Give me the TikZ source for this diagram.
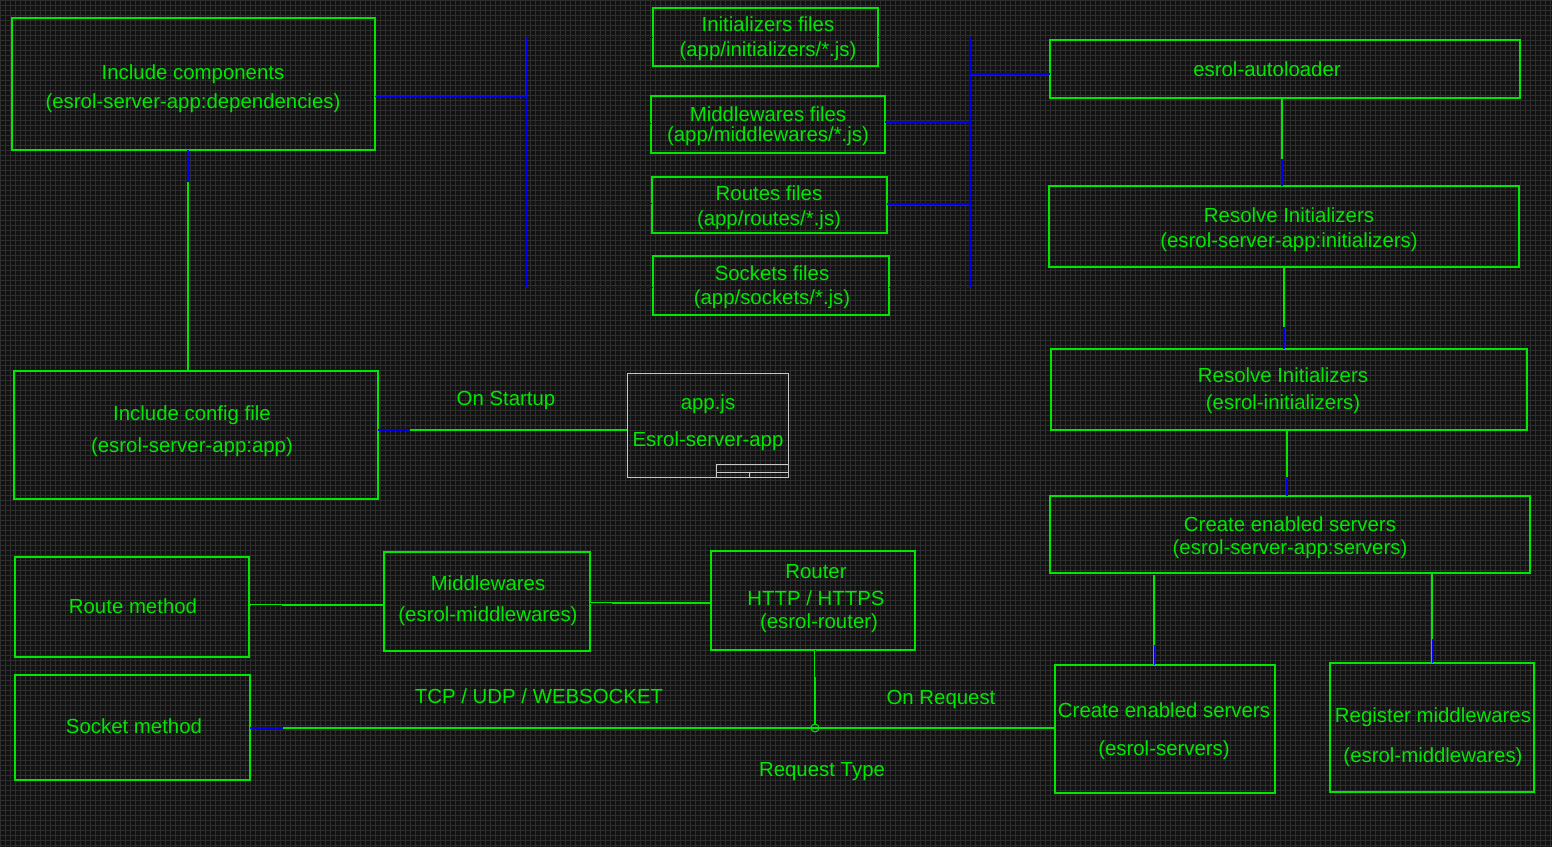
\documentclass[tikz,border=0pt]{standalone}
\usepackage{fontspec}
\setmainfont{Liberation Sans}
\usetikzlibrary{calc}
\definecolor{bgc}{RGB}{18,18,18}
\definecolor{gridc}{RGB}{46,46,46}
\definecolor{gln}{RGB}{0,232,0}
\definecolor{bln}{RGB}{0,0,235}
\definecolor{wln}{RGB}{200,200,200}
\newcommand\fsz[1]{\fontsize{20.4pt}{#1pt}\selectfont}
\begin{document}
\begin{tikzpicture}[x=1pt,y=-1pt,
 box/.style={draw=gln, line width=1.1pt, inner sep=0pt, outer sep=0pt},
 wbox/.style={draw=wln, line width=1pt, inner sep=0pt, outer sep=0pt},
 txt/.style={text=gln, inner sep=0pt, align=center, font=\fsz{24}},
 gl/.style={draw=gln, line width=1.2pt},
 bl/.style={draw=bln, line width=1.5pt},
 bthin/.style={draw=bln, line width=0.8pt},
 junction/.style={circle, draw=gln, line width=1pt, minimum size=8pt, inner sep=0pt, outer sep=0pt}
]
\useasboundingbox (0,0) rectangle (1552,847);
\fill[bgc] (0,0) rectangle (1552,847);
\draw[gridc, line width=0.7pt, step=5pt] (0,847) grid (1552,0);

% ---------- boxes ----------
\node[box, minimum width=363pt, minimum height=132pt] (ic) at (193.5,84) {};
\node[box, minimum width=364pt, minimum height=128pt] (cfg) at (196,435) {};
\node[box, minimum width=225pt, minimum height=58pt] (fInit) at (765.5,37) {};
\node[box, minimum width=234pt, minimum height=57pt] (fMid) at (768,124.5) {};
\node[box, minimum width=235pt, minimum height=56pt] (fRoute) at (769.5,205) {};
\node[box, minimum width=236pt, minimum height=59pt] (fSock) at (771,285.5) {};
\node[wbox, minimum width=161pt, minimum height=104pt] (app) at (707.5,425) {};
\node[box, minimum width=470pt, minimum height=58pt] (auto) at (1285,69) {};
\node[box, minimum width=470pt, minimum height=81pt] (ri1) at (1284,226.5) {};
\node[box, minimum width=476pt, minimum height=81pt] (ri2) at (1289,389.5) {};
\node[box, minimum width=480pt, minimum height=77pt] (cs) at (1290,534.5) {};
\node[box, minimum width=220pt, minimum height=128pt] (cs2) at (1165,729) {};
\node[box, minimum width=204pt, minimum height=129pt] (reg) at (1432,727.5) {};
\node[box, minimum width=234pt, minimum height=100pt] (route) at (132,607) {};
\node[box, minimum width=235pt, minimum height=105pt] (sock) at (132.5,727.5) {};
\node[box, minimum width=206pt, minimum height=99pt] (mw) at (487,601.5) {};
\node[box, minimum width=204pt, minimum height=99pt] (router) at (813,600.5) {};

% ---------- texts ----------
\node[txt, font=\fsz{29}] (tic) at (193,88.5) {Include components\\(esrol-server-app:dependencies)};
\node[txt, font=\fsz{32}] (tcfg) at (192,431) {Include config file\\(esrol-server-app:app)};
\node[txt, font=\fsz{25}] (tfInit) at (768,38.5) {Initializers files\\(app/initializers/*.js)};
\node[txt, font=\fsz{20}] (tfMid) at (768,126) {Middlewares files\\(app/middlewares/*.js)};
\node[txt, font=\fsz{25}] (tfRoute) at (769,207.5) {Routes files\\(app/routes/*.js)};
\node[txt, font=\fsz{24}] (tfSock) at (772,287) {Sockets files\\(app/sockets/*.js)};
\node[txt, font=\fsz{37}] (tapp) at (708,422.5) {app.js\\Esrol-server-app};
\node[txt] (tauto) at (1267,69) {esrol-autoloader};
\node[txt, font=\fsz{25}] (tri1) at (1289,229.5) {Resolve Initializers\\(esrol-server-app:initializers)};
\node[txt, font=\fsz{27}] (tri2) at (1283,390.5) {Resolve Initializers\\(esrol-initializers)};
\node[txt, font=\fsz{23}] (tcs) at (1290,537.5) {Create enabled servers\\(esrol-server-app:servers)};
\node[txt, font=\fsz{38}] (tcs2) at (1164,731) {Create enabled servers\\(esrol-servers)};
\node[txt, font=\fsz{40}] (treg) at (1433,737) {Register middlewares\\(esrol-middlewares)};
\node[txt] (troute) at (133,606) {Route method};
\node[txt] (tsock) at (134,726) {Socket method};
\node[txt, font=\fsz{31}] (tmw) at (488,600.5) {Middlewares\\(esrol-middlewares)};
\node[txt, font=\fsz{27}] (trouter) at (816,599) {Router\\HTTP / HTTPS\\[-4pt]\hspace*{6pt}(esrol-router)};

% ---------- free labels ----------
\node[txt] (lstart) at (506,400) {On Startup};
\node[txt] (ltcp) at (539,696) {TCP / UDP / WEBSOCKET};
\node[txt] (lreq) at (941,699) {On Request};
\node[txt] (ltype) at (822,772) {Request Type};

% ---------- app.js title block ----------
\draw[wln, line width=0.9pt] (716,477) -- (716,464) -- (788,464);
\draw[wln, line width=0.9pt] (716,472) -- (788,472);
\draw[wln, line width=0.9pt] (749,472) -- (749,477);

% ---------- junction ----------
\node[junction] (rt) at (815,728) {};

% ---------- connectors ----------
% include components -> include config
\coordinate (a1) at ($(ic.south)+(-5.5,0)$);
\draw[gl] (a1) -- (a1 |- cfg.north);
\draw[bl] (a1) -- ++(0,32);

% left bracket
\coordinate (lbx) at (526,0);
\coordinate (b0) at ($(ic.east)+(0,12)$);
\coordinate (b2) at ($(fMid.west)+(0,-1.5)$);
\coordinate (b3) at ($(fRoute.west)+(0,-2)$);
\coordinate (b4) at ($(fSock.west)+(0,1.5)$);
\draw[bthin] (b0) -- (b0 -| lbx);
\draw[bthin] (fInit.west -| lbx) -- (b0 -| lbx);
\draw[bl] (b0 -| lbx) -- (b4 -| lbx);
\draw[bthin] (fInit.west) -- (fInit.west -| lbx);
\draw[bthin] (b2) -- (b2 -| lbx);
\draw[bthin] (b3) -- (b3 -| lbx);
\draw[bthin] (b4) -- (b4 -| lbx);

% right bracket
\coordinate (rbx) at (970,0);
\coordinate (r2) at ($(fMid.east)+(0,-2.5)$);
\coordinate (r3) at ($(fRoute.east)+(0,-1)$);
\coordinate (r4) at ($(fSock.east)+(0,1.5)$);
\coordinate (r5) at ($(auto.west)+(0,5)$);
\draw[bl] (fInit.east -| rbx) -- (r4 -| rbx);
\draw[bthin] (fInit.east) -- (fInit.east -| rbx);
\draw[bl] (r2) -- (r2 -| rbx);
\draw[bl] (r3) -- (r3 -| rbx);
\draw[bthin] (r4) -- (r4 -| rbx);
\draw[bl] (r5) -- (r5 -| rbx);

% include config -> app.js
\coordinate (c1) at ($(cfg.east)+(0,-5)$);
\draw[gl] (c1) -- (c1 -| app.west);
\draw[bl] (c1) -- ++(32,0);

% autoloader -> resolve initializers
\coordinate (d1) at ($(auto.south)+(-3,0)$);
\draw[gl] (d1) -- (d1 |- ri1.north);
\draw[bl] (d1 |- ri1.north) -- ++(0,-27);

% resolve initializers -> resolve initializers
\draw[gl] (ri1.south) -- (ri1.south |- ri2.north);
\draw[bl] (ri1.south |- ri2.north) -- ++(0,-22);

% resolve initializers -> create enabled servers
\coordinate (e1) at ($(ri2.south)+(-2,0)$);
\draw[gl] (e1) -- (e1 |- cs.north);
\draw[bl] (e1 |- cs.north) -- ++(0,-19);

% create enabled servers -> create enabled servers (esrol-servers)
\coordinate (f1) at ($(cs.south)+(-136,2)$);
\draw[gl] (f1) -- (f1 |- cs2.north);
\draw[bthin] (f1 |- cs2.north) -- ++(0,-20);

% create enabled servers -> register middlewares
\draw[gl] (reg.north |- cs.south) -- (reg.north);
\draw[bthin] (reg.north) -- ++(0,-24);

% route method -> middlewares
\coordinate (g1) at ($(route.east)+(0,-2)$);
\draw[gl] (g1) -- (g1 -| mw.west);
\draw[bthin] ($(g1)+(2,0)$) -- ++(31,0);

% middlewares -> router
\coordinate (h1) at ($(mw.east)+(0,1.5)$);
\draw[gl] (h1) -- (h1 -| router.west);
\draw[bthin] (h1) -- ++(22,0);

% router -> request type junction
\coordinate (i1) at ($(router.south)+(2,0)$);
\draw[gl] (i1) -- (rt.north);
\draw[bthin] (i1) -- ++(0,27);

% socket method -> create enabled servers (esrol-servers)
\coordinate (s1) at ($(sock.east)+(0,0.5)$);
\draw[gl] (s1) -- (s1 -| cs2.west);
\draw[bl] (s1) -- ++(33,0);
\end{tikzpicture}
\end{document}
